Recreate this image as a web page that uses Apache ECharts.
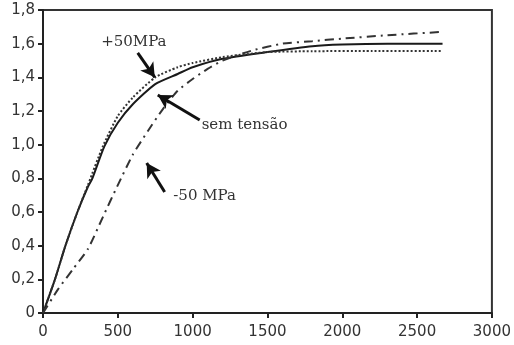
<!DOCTYPE html>
<html><head><meta charset="utf-8">
<script src="https://cdn.jsdelivr.net/npm/echarts@6/dist/echarts.min.js"></script>
<style>html,body{margin:0;padding:0;background:#fff}#c{width:514px;height:345px}</style>
</head><body><div id="c"></div>
<script>
const xTicks = [0, 500, 1000, 1500, 2000, 2500, 3000];
const yTicks = [0, 0.2, 0.4, 0.6, 0.8, 1.0, 1.2, 1.4, 1.6, 1.8];

const semX = [0, 80, 150, 230, 300, 330, 410, 500, 600, 750, 900, 1000, 1200, 1500, 1800, 2000, 2300, 2670];
const semY = [0, 0.2, 0.4, 0.6, 0.75, 0.8, 0.99, 1.13, 1.24, 1.36, 1.42, 1.46, 1.51, 1.55, 1.585, 1.595, 1.6, 1.6];

const plusX = [0, 80, 150, 230, 300, 400, 500, 600, 750, 900, 1000, 1200, 1500, 1800, 2200, 2670];
const plusY = [0, 0.2, 0.4, 0.6, 0.76, 0.99, 1.17, 1.28, 1.4, 1.46, 1.485, 1.52, 1.55, 1.555, 1.557, 1.557];

const minusX = [0, 100, 200, 300, 400, 500, 600, 700, 800, 900, 1000, 1100, 1200, 1400, 1600, 1800, 2000, 2300, 2670];
const minusY = [0, 0.14, 0.26, 0.38, 0.57, 0.76, 0.94, 1.08, 1.21, 1.32, 1.39, 1.45, 1.5, 1.56, 1.6, 1.615, 1.63, 1.65, 1.67];

const labels = [
  {text: '+50MPa', x: 607, y: 1.61},
  {text: 'sem tensão', x: 1347, y: 1.117},
  {text: '-50 MPa', x: 1080, y: 0.695}
];
const arrows = [
  {from: [633, 1.545], to: [747, 1.40]},
  {from: [1047, 1.147], to: [767, 1.295]},
  {from: [813, 0.719], to: [693, 0.891]}
];

const zip = (a, b) => a.map((v, i) => [v, b[i]]);

const chart = echarts.init(document.getElementById('c'), null, {renderer: 'canvas'});
chart.setOption({
  animation: false,
  backgroundColor: '#fff',
  grid: {left: 43, right: 21, top: 10, bottom: 32, show: true, borderColor: '#333', borderWidth: 2, backgroundColor: 'transparent'},
  xAxis: {
    type: 'value', min: 0, max: 3000, interval: 500,
    axisLine: {show: true, lineStyle: {color: '#222', width: 2}},
    axisTick: {show: true, length: 5, lineStyle: {color: '#222', width: 2}},
    axisLabel: {color: '#333', fontFamily: 'DejaVu Sans', fontSize: 15, margin: 12,
      formatter: v => String(v)},
    splitLine: {show: false}
  },
  yAxis: {
    type: 'value', min: 0, max: 1.8, interval: 0.2,
    axisLine: {show: true, lineStyle: {color: '#222', width: 2}},
    axisTick: {show: true, length: 5, lineStyle: {color: '#222', width: 2}},
    axisLabel: {color: '#333', fontFamily: 'DejaVu Sans', fontSize: 15, margin: 8,
      formatter: v => v === 0 ? '0' : v.toFixed(1).replace('.', ',')},
    splitLine: {show: false}
  },
  series: [
    {type: 'line', name: 'sem tensão', data: zip(semX, semY), showSymbol: false, smooth: 0.2,
     lineStyle: {color: '#1a1a1a', width: 2}},
    {type: 'line', name: '+50MPa', data: zip(plusX, plusY), showSymbol: false, smooth: 0.2,
     lineStyle: {color: '#333', width: 2, type: [2, 2]}},
    {type: 'line', name: '-50 MPa', data: zip(minusX, minusY), showSymbol: false, smooth: 0.2,
     lineStyle: {color: '#333', width: 2, type: [9, 5, 2, 5]},
     markLine: {
       silent: true, symbol: ['none', 'arrow'], symbolSize: [12, 14],
       lineStyle: {color: '#111', width: 3, type: 'solid'},
       label: {show: false},
       data: arrows.map(a => [{coord: a.from}, {coord: a.to}])
     },
     markPoint: {
       silent: true, symbol: 'circle', symbolSize: 0,
       label: {show: true, position: 'inside', color: '#333', fontFamily: 'DejaVu Serif', fontSize: 15,
         formatter: p => p.name},
       data: labels.map(l => ({name: l.text, coord: [l.x, l.y]}))
     }}
  ]
});
</script></body></html>
